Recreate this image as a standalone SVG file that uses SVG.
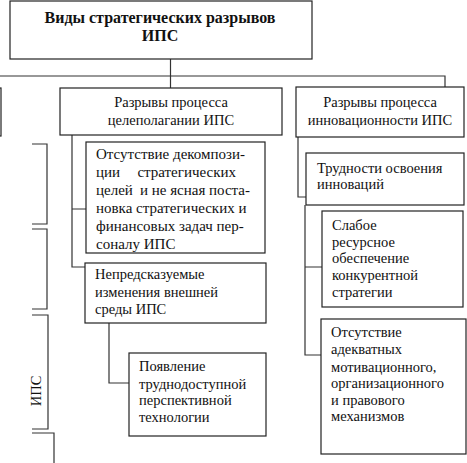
<svg xmlns="http://www.w3.org/2000/svg" width="467" height="463" viewBox="0 0 467 463" font-family="'Liberation Serif', 'DejaVu Serif', serif">
<style>
.box{fill:#fff;stroke:#222;stroke-width:1.2}
.ln{fill:none;stroke:#333;stroke-width:1.2}
text{font-family:'Liberation Serif','DejaVu Serif',serif;font-size:14.5px;fill:#111}
.c{text-anchor:middle}
.e{text-anchor:end}
.b{font-weight:bold;font-size:16px}
.l{font-size:15px}
</style>
<rect width="467" height="463" fill="#fff"/>
<g id="connectors">
<path class="ln" d="M170.5,59 V88"/>
<path class="ln" d="M0,76 H445 V87"/>
<path class="ln" d="M72,135 V267 H85 M72,209 H86"/>
<path class="ln" d="M109,323 V383 H129"/>
<path class="ln" d="M298,137 V197 H306"/>
<path class="ln" d="M305,205 V355 H321 M305,267 H322"/>
<path class="ln" d="M32,144 H47 V224 H32"/>
<path class="ln" d="M32,229 H47 V309 H32"/>
<path class="ln" d="M32,315 H48 V429 H32"/>
<path class="ln" d="M32,433 H54 V463"/>
</g>
<g id="n-root">
<rect class="box" x="10" y="1" width="302" height="58"/>
<text class="c b" x="160" y="23">Виды стратегических разрывов</text>
<text class="c b" x="160" y="41">ИПС</text>
</g>
<g id="n-left-partial">
<rect class="box" x="-100" y="88" width="101" height="48"/>
</g>
<g id="n-ips-label">
<text class="c" transform="translate(41,391) rotate(-90)">ИПС</text>
</g>
<g id="n-goal">
<rect class="box" x="60" y="88" width="222" height="47"/>
<text class="c" x="171" y="107">Разрывы процесса</text>
<text class="c" x="171" y="125">целеполагании ИПС</text>
</g>
<g id="n-decomp">
<rect class="box" x="86" y="142" width="179" height="111"/>
<text class="l" x="96" y="159">Отсутствие декомпози-</text>
<text class="l" x="96" y="177">ции</text>
<text class="l e" x="236" y="177">стратегических</text>
<text class="l" x="96" y="195">целей</text>
<text class="l e" x="250" y="195">и не ясная поста-</text>
<text class="l" x="96" y="213">новка стратегических и</text>
<text class="l" x="96" y="231">финансовых задач пер-</text>
<text class="l" x="96" y="249">соналу ИПС</text>
</g>
<g id="n-unpred">
<rect class="box" x="85" y="263" width="181" height="60"/>
<text x="95" y="279">Непредсказуемые</text>
<text x="95" y="297">изменения внешней</text>
<text x="95" y="314">среды ИПС</text>
</g>
<g id="n-tech">
<rect class="box" x="129" y="353" width="137" height="83"/>
<text x="139" y="371">Появление</text>
<text x="139" y="389">труднодоступной</text>
<text x="139" y="405">перспективной</text>
<text x="139" y="422">технологии</text>
</g>
<g id="n-innov">
<rect class="box" x="296" y="87" width="168" height="50"/>
<text class="c" x="380" y="107">Разрывы процесса</text>
<text class="c" x="380" y="125">инновационности ИПС</text>
</g>
<g id="n-difficult">
<rect class="box" x="306" y="153" width="158" height="52"/>
<text x="317" y="173">Трудности освоения</text>
<text x="317" y="189">инноваций</text>
</g>
<g id="n-weak">
<rect class="box" x="322" y="211" width="141" height="96"/>
<text x="332" y="230">Слабое</text>
<text x="332" y="247">ресурсное</text>
<text x="332" y="263">обеспечение</text>
<text x="332" y="280">конкурентной</text>
<text x="332" y="297">стратегии</text>
</g>
<g id="n-mech">
<rect class="box" x="321" y="319" width="145" height="135"/>
<text x="331" y="337">Отсутствие</text>
<text x="331" y="354">адекватных</text>
<text x="331" y="372">мотивационного,</text>
<text x="331" y="388">организационного</text>
<text x="331" y="405">и правового</text>
<text x="331" y="421">механизмов</text>
</g>
</svg>
